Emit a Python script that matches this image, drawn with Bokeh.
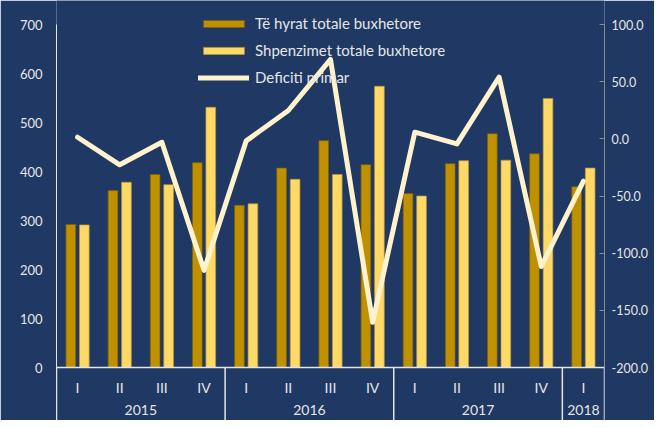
from bokeh.plotting import figure
from bokeh.models import (Range1d, LinearAxis, FixedTicker, NumeralTickFormatter,
                          Legend, LegendItem, ColumnDataSource, Span)
from bokeh.transform import dodge
from bokeh.core.properties import value
from bokeh.embed import file_html
from bokeh.resources import INLINE

# ---------------- data ----------------
years = ["2015", "2016", "2017", "2018"]
quarters_per_year = [4, 4, 4, 1]
quarters = ["I", "II", "III", "IV", "I", "II", "III", "IV", "I", "II", "III", "IV", "I"]
revenue = [292, 361, 394, 418, 331, 407, 463, 414, 355, 416, 477, 436, 369]
expenditure = [291, 378, 373, 531, 334, 384, 394, 574, 350, 422, 423, 549, 407]
deficit = [1.4, -22.7, -3.0, -115.0, -1.8, 24.8, 69.5, -160.5, 5.8, -4.4, 54.0, -111.7, -37.0]
left_ticks = [0, 100, 200, 300, 400, 500, 600, 700]
right_ticks = [-200, -150, -100, -50, 0, 50, 100]
series_names = ["Të hyrat totale buxhetore", "Shpenzimet totale buxhetore", "Deficiti primar"]

# ---------------- styling / geometry ----------------
BG = "#1F3864"
TXT = "#E6E6E6"
FONT = "Lato"
W, H = 654, 420
LEFT_B, RIGHT_B = 56, 50
top_px = 24      # space above the 700 / 100.0 ticks
plot_px = 343    # pixels from top tick down to 0 / -200
lpx = plot_px / (left_ticks[-1] - left_ticks[0])
rpx = plot_px / (right_ticks[-1] - right_ticks[0])
below_px = H - top_px - plot_px
y_lo = -below_px / lpx
y_hi = left_ticks[-1] + top_px / lpx
r_lo = right_ticks[0] - below_px / rpx
r_hi = right_ticks[-1] + top_px / rpx
n = len(quarters)

src = ColumnDataSource(dict(x=[i + 0.5 for i in range(n)], rev=revenue,
                            exp=expenditure, dfc=deficit, q=quarters))

p = figure(width=W, height=H, x_range=Range1d(0, n), y_range=Range1d(y_lo, y_hi),
           output_backend="svg", toolbar_location=None, x_axis_location=None,
           min_border_left=LEFT_B, min_border_right=RIGHT_B, min_border_top=0,
           min_border_bottom=0, background_fill_color=BG, border_fill_color=BG,
           outline_line_color=None)
p.grid.visible = False

# left axis
ya = p.yaxis[0]
ya.ticker = FixedTicker(ticks=left_ticks)
ya.bounds = (y_lo, left_ticks[-1])
ya.axis_line_color = "#E6E6E6"
ya.axis_line_width = 1
ya.major_tick_out = 0
ya.major_tick_in = 0
ya.minor_tick_line_color = None
ya.major_label_standoff = 14
ya.major_label_text_color = TXT
ya.major_label_text_font = FONT
ya.major_label_text_font_size = "13px"

# right axis
p.extra_y_ranges = {"def": Range1d(r_lo, r_hi)}
ra = LinearAxis(y_range_name="def", ticker=FixedTicker(ticks=right_ticks),
                formatter=NumeralTickFormatter(format="0.0"),
                bounds=(right_ticks[0], right_ticks[-1]))
ra.axis_line_color = "#8C8C8C"
ra.major_tick_line_color = "#8C8C8C"
ra.major_tick_in = 5
ra.major_tick_out = 0
ra.minor_tick_line_color = None
ra.major_label_standoff = 7
ra.major_label_text_color = TXT
ra.major_label_text_font = FONT
ra.major_label_text_font_size = "12.5px"
p.add_layout(ra, "right")

# bars
r1 = p.vbar(x=dodge("x", -0.16, range=p.x_range), top="rev", width=0.23, source=src,
            fill_color="#BF9000", line_color="#7F6000", line_alpha=0.7, line_width=1)
r2 = p.vbar(x=dodge("x", 0.16, range=p.x_range), top="exp", width=0.23, source=src,
            fill_color="#FFD966", line_color="#B8963A", line_alpha=0.7, line_width=1)
# line
r3 = p.line("x", "dfc", source=src, y_range_name="def", line_color="#FFF2CC",
            line_width=5, line_join="round", line_cap="round")

# category box
p.add_layout(Span(location=0, dimension="width", line_color="#E6E6E6", line_width=1.5))
seps = [0]
for c in quarters_per_year:
    seps.append(seps[-1] + c)
p.segment(x0=seps, y0=[0] * len(seps), x1=seps, y1=[y_lo] * len(seps),
          line_color="#E6E6E6", line_width=1.5)
p.text(x="x", y=-20 / lpx, text="q", source=src, text_font=value(FONT),
       text_font_size="14px", text_color=TXT, text_align="center", text_baseline="middle")
year_x = [(seps[i] + seps[i + 1]) / 2 for i in range(len(years))]
p.text(x=year_x, y=[-42 / lpx] * len(years), text=years, text_font=value(FONT),
       text_font_size="14px", text_color=TXT, text_align="center", text_baseline="middle")

# legend
legend = Legend(items=[LegendItem(label=series_names[0], renderers=[r1]),
                       LegendItem(label=series_names[1], renderers=[r2]),
                       LegendItem(label=series_names[2], renderers=[r3])],
                location=(142, 333), glyph_width=51, glyph_height=9, label_height=20,
                spacing=7, padding=0, margin=0, background_fill_alpha=0,
                border_line_color=None, label_text_color=TXT, label_text_font=FONT,
                label_text_font_size="15px", label_standoff=6)
legend.level = "underlay"
p.add_layout(legend)

html = file_html(p, INLINE)
html = html.replace("<body>", '<body style="background-color:%s">' % BG, 1)
open("out.html", "w").write(html)
